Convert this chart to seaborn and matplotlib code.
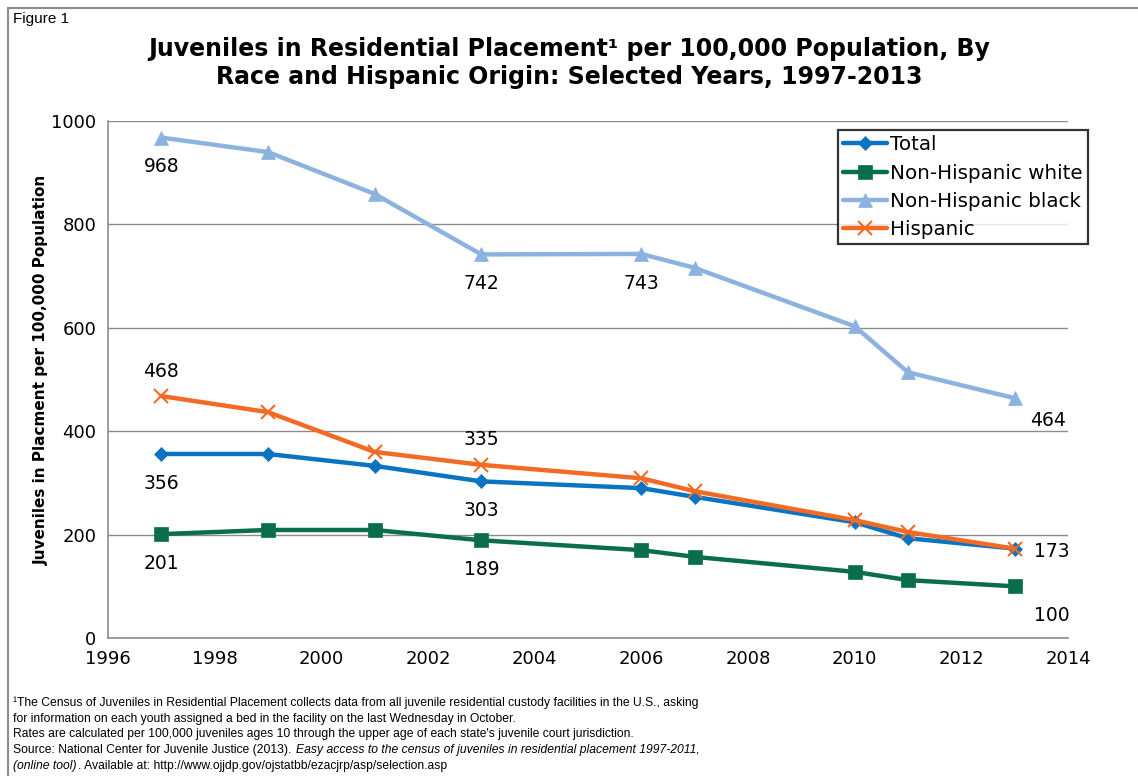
import matplotlib
matplotlib.use("Agg")
import matplotlib.pyplot as plt
from matplotlib.lines import Line2D
import seaborn as sns
import pandas as pd

years = [1997, 1999, 2001, 2003, 2006, 2007, 2010, 2011, 2013]
total = [356, 356, 333, 303, 290, 273, 224, 193, 173]
nh_white = [201, 209, 209, 189, 170, 157, 128, 112, 100]
nh_black = [968, 940, 859, 742, 743, 716, 603, 514, 464]
hispanic = [468, 437, 360, 335, 309, 284, 228, 205, 173]

series_names = ["Total", "Non-Hispanic white", "Non-Hispanic black", "Hispanic"]
series_values = [total, nh_white, nh_black, hispanic]

rows = []
for name, vals in zip(series_names, series_values):
    for yr, v in zip(years, vals):
        rows.append({"Year": yr, "Rate": v, "Group": name})
df = pd.DataFrame(rows)

sns.set_style("white")
plt.rcParams["font.family"] = ["DejaVu Sans"]
plt.rcParams["text.color"] = "black"
plt.rcParams["axes.labelcolor"] = "black"

colors = {
    "Total": "#0A74C2",
    "Non-Hispanic white": "#0A6E4C",
    "Non-Hispanic black": "#8CB2E0",
    "Hispanic": "#F26A23",
}
markers = {
    "Total": "D",
    "Non-Hispanic white": "s",
    "Non-Hispanic black": "^",
    "Hispanic": "x",
}
msize = {"Total": 7.5, "Non-Hispanic white": 9.5, "Non-Hispanic black": 10.5, "Hispanic": 10}

fig = plt.figure(figsize=(11.38, 7.76), dpi=100)
ax = fig.add_axes([0.0949, 0.1778, 0.8436, 0.6662])

for name in series_names:
    sub = df[df["Group"] == name]
    sns.lineplot(data=sub, x="Year", y="Rate", ax=ax, color=colors[name],
                 linewidth=3.2, marker=markers[name], markersize=msize[name],
                 markeredgecolor=colors[name],
                 markeredgewidth=1.5 if name == "Hispanic" else 0.5,
                 label=name, zorder=3)

ax.set_xlim(1996, 2014)
ax.set_ylim(0, 1000)
ax.set_xticks(range(1996, 2015, 2))
ax.set_yticks(range(0, 1001, 200))
ax.tick_params(axis="both", labelsize=13, labelcolor="black", color="#8C8C8C",
               length=5, width=1, direction="out")
ax.grid(axis="y", color="#8C8C8C", linewidth=1)
ax.grid(axis="x", visible=False)
for s in ["top", "right"]:
    ax.spines[s].set_visible(False)
for s in ["left", "bottom"]:
    ax.spines[s].set_color("#8C8C8C")
    ax.spines[s].set_linewidth(1.2)
ax.set_xlabel("")
ax.set_ylabel("Juveniles in Placment per 100,000 Population", fontsize=11,
              fontweight="bold", color="black")
ax.yaxis.set_label_coords(-0.062, 0.518)

# Value labels next to selected points
labels = [
    ("Non-Hispanic black", 1997, 0, -21),
    ("Non-Hispanic black", 2003, 0, -21),
    ("Non-Hispanic black", 2006, 0, -21),
    ("Non-Hispanic black", 2013, 24, -16),
    ("Hispanic", 1997, 0, 18),
    ("Hispanic", 2003, 0, 18),
    ("Total", 1997, 0, -21),
    ("Total", 2003, 0, -21),
    ("Total", 2013, 27, -2),
    ("Non-Hispanic white", 1997, 0, -21),
    ("Non-Hispanic white", 2003, 0, -21),
    ("Non-Hispanic white", 2013, 27, -21),
]
for name, yr, dx, dy in labels:
    vals = series_values[series_names.index(name)]
    v = vals[years.index(yr)]
    ax.annotate(f"{v}", (yr, v), xytext=(dx, dy), textcoords="offset points",
                ha="center", va="center", fontsize=13.5, color="black")

leg = ax.legend(loc="upper right", bbox_to_anchor=(1.021, 0.983), fontsize=14.3,
                frameon=True, fancybox=False, handlelength=2.2, handletextpad=0.15,
                borderpad=0.28, labelspacing=0.46, borderaxespad=0.0)
leg.get_frame().set_edgecolor("black")
leg.get_frame().set_linewidth(1.6)
for t in leg.get_texts():
    t.set_color("black")

fig.text(0.5, 0.919, "Juveniles in Residential Placement\u00b9 per 100,000 Population, By\n"
         "Race and Hispanic Origin: Selected Years, 1997-2013",
         ha="center", va="center", fontsize=17, fontweight="bold", linespacing=1.2,
         color="black")
fig.text(0.011, 0.975, "Figure 1", fontsize=11, family=["Liberation Sans", "DejaVu Sans"],
         ha="left", va="center")

# Footnote, set in pieces so the italic title runs on inline
ffam = ["Liberation Sans", "DejaVu Sans"]
fsize = 8.7
x0 = 13
line_px = 15.7
first_base = 776 - 706
lines = [
    [("\u00b9The Census of Juveniles in Residential Placement collects data from all juvenile residential custody facilities in the U.S., asking", "normal")],
    [("for information on each youth assigned a bed in the facility on the last Wednesday in October.", "normal")],
    [("Rates are calculated per 100,000 juveniles ages 10 through the upper age of each state's juvenile court jurisdiction.", "normal")],
    [("Source: National Center for Juvenile Justice (2013). ", "normal"),
     ("Easy access to the census of juveniles in residential placement 1997-2011,", "italic")],
    [("(online tool)", "italic"),
     (". Available at: http://www.ojjdp.gov/ojstatbb/ezacjrp/asp/selection.asp", "normal")],
]
renderer = fig.canvas.get_renderer()
for i, parts in enumerate(lines):
    x = x0
    ypix = first_base - i * line_px
    for txt, st in parts:
        t = fig.text(x / 1138, ypix / 776, txt, fontsize=fsize, family=ffam, style=st,
                     ha="left", va="baseline", color="black")
        x = t.get_window_extent(renderer).x1 + 1

# Frame along the top and left edges
fig.add_artist(Line2D([8 / 1138, 1.0], [1 - 8 / 776, 1 - 8 / 776], transform=fig.transFigure,
                      color="#8C8C8C", linewidth=1.5))
fig.add_artist(Line2D([8 / 1138, 8 / 1138], [0.0, 1 - 8 / 776], transform=fig.transFigure,
                      color="#8C8C8C", linewidth=1.5))

fig.savefig("out.png", dpi=100)
